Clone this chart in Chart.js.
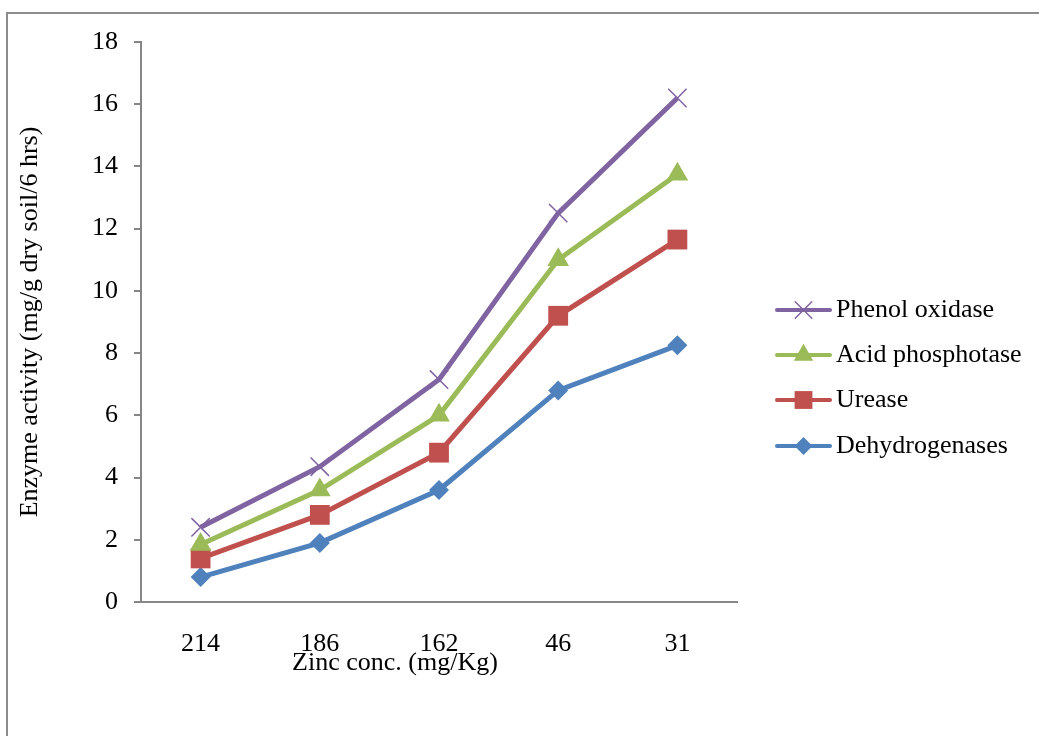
<!DOCTYPE html>
<html>
<head>
<meta charset="utf-8">
<script src="https://cdn.jsdelivr.net/npm/chart.js@4/dist/chart.umd.min.js"></script>
<style>
html,body{margin:0;padding:0;background:#fff;}
canvas{display:block;}
</style>
</head>
<body>
<canvas id="c" width="1039" height="736"></canvas>
<script>
const categories = ['214', '186', '162', '46', '31'];
const phenolOxidase = [2.4, 4.35, 7.15, 12.5, 16.2];
const acidPhosphotase = [1.85, 3.6, 6.0, 11.0, 13.75];
const urease = [1.4, 2.8, 4.8, 9.2, 11.65];
const dehydrogenases = [0.8, 1.9, 3.6, 6.8, 8.25];
const seriesLabels = ['Phenol oxidase', 'Acid phosphotase', 'Urease', 'Dehydrogenases'];
const xTitle = 'Zinc conc. (mg/Kg)';
const yTitle = 'Enzyme activity (mg/g dry soil/6 hrs)';

const FONT = '"Liberation Serif", "Times New Roman", serif';
const FS = 26;
const GRAY = '#868686';

const colors = ['#8064A2', '#9BBB59', '#C0504D', '#4F81BD'];
const styles = ['crossRot', 'triangle', 'rect', 'rectRot'];
const radii = [13, 12.5, 14, 10];
const values = [phenolOxidase, acidPhosphotase, urease, dehydrogenases];

const datasets = seriesLabels.map((lab, i) => ({
  label: lab,
  data: values[i],
  borderColor: colors[i],
  backgroundColor: colors[i],
  borderWidth: 5,
  pointStyle: styles[i],
  pointRadius: radii[i],
  pointHoverRadius: radii[i],
  pointBorderWidth: i === 0 ? 1.5 : 0,
  pointBorderColor: colors[i],
  pointBackgroundColor: colors[i],
  tension: 0
}));

const decor = {
  id: 'decor',
  beforeDraw(chart) {
    const ctx = chart.ctx;
    ctx.save();
    ctx.fillStyle = '#fff';
    ctx.fillRect(0, 0, chart.width, chart.height);
    ctx.strokeStyle = '#8c8c8c';
    ctx.lineWidth = 2;
    ctx.strokeRect(7, 13, 1200, 900);
    ctx.restore();
  },
  afterDraw(chart) {
    const ctx = chart.ctx;
    ctx.save();
    ctx.font = FS + 'px ' + FONT;
    ctx.fillStyle = '#000';
    ctx.textAlign = 'center';
    ctx.textBaseline = 'middle';
    ctx.fillText(xTitle, 395, 663);
    const lx0 = 777, lx1 = 830, tx = 836;
    const ys = [310, 355, 400, 446];
    chart.data.datasets.forEach((ds, i) => {
      const y = ys[i];
      ctx.strokeStyle = ds.borderColor;
      ctx.lineWidth = 4;
      ctx.lineCap = 'round';
      ctx.beginPath();
      ctx.moveTo(lx0, y);
      ctx.lineTo(lx1, y);
      ctx.stroke();
      ctx.fillStyle = ds.backgroundColor;
      ctx.strokeStyle = ds.borderColor;
      ctx.lineWidth = ds.pointBorderWidth || 0;
      Chart.helpers.drawPoint(ctx, {
        pointStyle: ds.pointStyle, rotation: 0,
        radius: ds.pointRadius * 0.9, borderWidth: ds.pointBorderWidth
      }, lx0 + (lx1 - lx0) / 2, y);
      ctx.fillStyle = '#000';
      ctx.textAlign = 'left';
      ctx.textBaseline = 'middle';
      ctx.font = FS + 'px ' + FONT;
      ctx.fillText(ds.label, tx, y);
    });
    ctx.restore();
  }
};

new Chart(document.getElementById('c'), {
  type: 'line',
  data: { labels: categories, datasets },
  plugins: [decor],
  options: {
    responsive: false,
    animation: false,
    devicePixelRatio: 1,
    layout: { padding: { left: 0, top: 42, right: 302, bottom: 0 } },
    plugins: { legend: { display: false }, tooltip: { enabled: false } },
    scales: {
      x: {
        offset: true,
        grid: { display: true, drawOnChartArea: false, drawTicks: false },
        border: { display: true, color: GRAY, width: 2 },
        ticks: { color: '#000', font: { family: FONT, size: FS }, padding: 27, maxRotation: 0 },
        afterFit(scale) { scale.height = 134; }
      },
      y: {
        min: 0, max: 18,
        grid: { display: true, drawOnChartArea: false, drawTicks: true, tickLength: 7, color: GRAY, lineWidth: 2 },
        border: { display: true, color: GRAY, width: 2 },
        ticks: { stepSize: 2, color: '#000', font: { family: FONT, size: FS }, padding: 16 },
        title: { display: true, text: yTitle, color: '#000', font: { family: FONT, size: FS }, padding: { top: 15, bottom: 0 } },
        afterFit(scale) { scale.width = 141; }
      }
    }
  }
});
</script>
</body>
</html>
